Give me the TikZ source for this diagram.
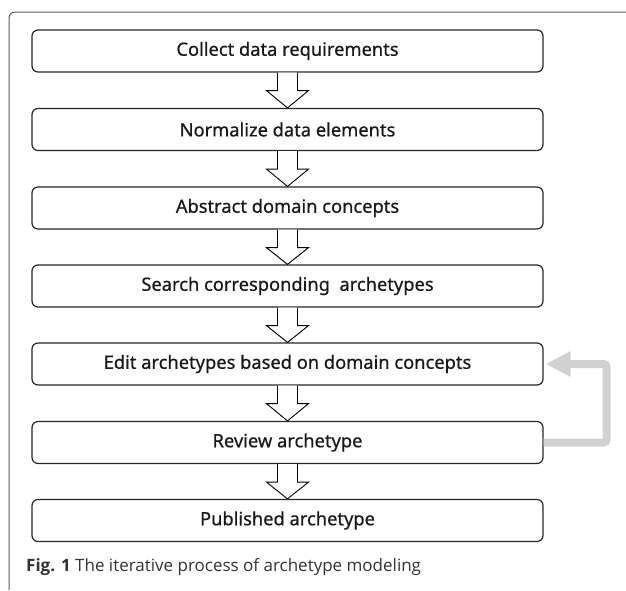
\documentclass[tikz,border=0pt]{standalone}
\usepackage{fontspec}
\setmainfont{Noto Sans}
\newfontfamily\boxfont[FakeBold=0.6]{Noto Sans}
\newfontfamily\capfont{Open Sans}
\usepackage{tikz}
\usepackage{xcolor}
\usetikzlibrary{calc,arrows.meta}

\begin{document}
\begin{tikzpicture}[x=1pt,y=-1pt]
    % Styles for boxes and lines
    \tikzset{
      box/.style={rectangle, rounded corners=6pt, draw=black!85, line width=1.2pt, align=center, minimum width=511pt, minimum height=42pt, font=\boxfont\fontsize{18.3}{21}\selectfont, text=black!90},
      blockarrow/.style={draw=black, fill=white, line width=0.9pt, line join=miter},
      feedback/.style={draw=black!18, line width=8pt, rounded corners=3pt, -{Triangle[length=25pt,width=24pt]}, shorten >=2pt},
      frame/.style={draw=black!65, line width=1pt, rounded corners=6pt}
    }
    \useasboundingbox (0,0) rectangle (626,590);

    % Outer frame
    \draw[frame] (9,590) -- (9,12) -- (626,12);

    % Nodes with explicit coordinates
    \node[box] (collect) at (287.5,51) {Collect data requirements};
    \node[box] (normalize) at (287.5,129.5) {Normalize data elements};
    \node[box] (abstract) at (287.5,208) {Abstract domain concepts};
    \node[box] (search) at (287.5,286) {Search corresponding\ \ archetypes};
    \node[box] (edit) at (287.5,364) {Edit archetypes based on domain concepts};
    \node[box] (review) at (287.5,442.5) {Review archetype};
    \node[box] (publish) at (287.5,520.5) {Published archetype};

    % Hollow arrows between the steps
    \foreach \a/\b in {collect/normalize, normalize/abstract, abstract/search, search/edit, edit/review, review/publish}{
      \draw[blockarrow] ($(\a.south)+(-10,0)$) -- ($(\a.south)+(-10,18)$) -- ($(\a.south)+(-21,18)$) -- (\b.north)
        -- ($(\a.south)+(21,18)$) -- ($(\a.south)+(10,18)$) -- ($(\a.south)+(10,0)$);
    }

    % Feedback loop
    \draw[feedback] (review.east) -- ++(63,0) |- (edit.east);

    % Caption
    \node[anchor=west, inner sep=0pt, font=\capfont\fontsize{17}{20}\selectfont, text=black!80] (caption) at (26,567) {\textbf{Fig. 1} The iterative process of archetype modeling};

\end{tikzpicture}
\end{document}
